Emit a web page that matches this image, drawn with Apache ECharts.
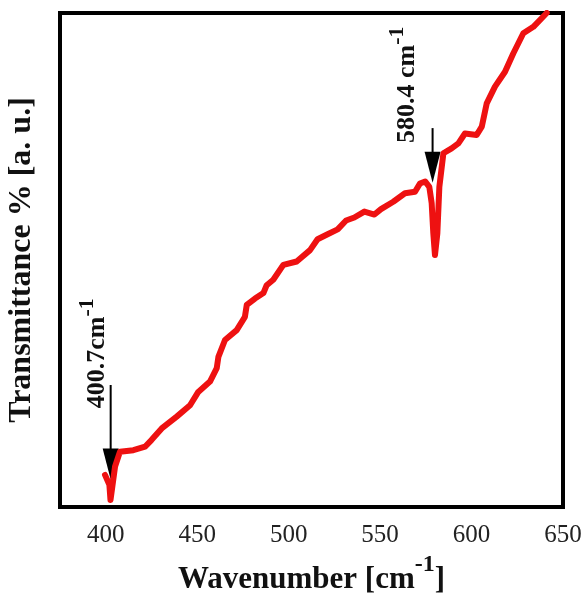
<!DOCTYPE html>
<html>
<head>
<meta charset="utf-8">
<script src="https://cdn.jsdelivr.net/npm/echarts@6/dist/echarts.min.js"></script>
<style>
  html, body { margin: 0; padding: 0; background: #fff; }
  #chart { width: 584px; height: 593px; }
</style>
</head>
<body>
<div id="chart"></div>
<script>
// FTIR spectrum, wavenumber [cm-1] vs transmittance (arbitrary units)
var wavenumber = [399.6, 402.0, 402.6, 403.4, 405.1, 407.8, 415.1, 421.5, 425.1, 430.6,
  438.8, 446.1, 450.6, 457.0, 460.7, 461.6, 465.2, 471.6, 476.1, 477.1,
  481.6, 486.2, 488.0, 491.6, 497.1, 504.4, 511.7, 515.8, 521.3, 526.8,
  531.4, 535.9, 541.4, 546.9, 550.5, 557.2, 563.6, 569.1, 571.8, 574.6,
  576.9, 578.2, 579.1, 580.0, 581.3, 582.4, 584.6, 589.1, 592.8, 596.4,
  602.8, 605.6, 608.3, 612.8, 618.3, 622.8, 628.3, 633.8, 641.1];
var transmittance = [6.5, 4.5, 1.4, 1.4, 8.2, 11.2, 11.5, 12.2, 13.6, 15.9,
  18.3, 20.6, 23.3, 25.4, 28.1, 30.4, 33.8, 35.8, 38.5, 40.9,
  42.2, 43.3, 44.9, 46.0, 49.0, 49.7, 52.0, 54.2, 55.2, 56.2,
  58.0, 58.6, 59.8, 59.2, 60.3, 61.8, 63.5, 63.8, 65.5, 65.9,
  64.8, 61.5, 55.4, 51.0, 55.4, 64.8, 71.6, 72.6, 73.6, 75.6,
  75.3, 77.0, 81.7, 85.1, 88.1, 91.8, 95.9, 97.2, 100];
var xTicks = [400, 450, 500, 550, 600, 650];

// peak annotations: label text, arrow x, arrow top, arrow head centre, label anchor
var peakText = ['400.7cm', '580.4 cm'];
var arrowX = [402.7, 578.7];
var arrowTop = [24.7, 76.7];
var arrowHead = [8.7, 68.8];
var labelAt = [[402.3, 20.0], [572.1, 73.7]];

var serif = 'Liberation Serif';
var points = wavenumber.map(function (w, i) { return [w, transmittance[i]]; });

var chart = echarts.init(document.getElementById('chart'));
var option = {
  animation: false,
  grid: {
    left: 60, right: 21, top: 13, bottom: 86,
    outerBoundsMode: 'none',
    show: true, borderColor: '#000', borderWidth: 4
  },
  xAxis: {
    type: 'value', min: 375, max: 650, interval: 25,
    axisLine: { show: false }, axisTick: { show: false }, splitLine: { show: false },
    axisLabel: {
      margin: 16, fontSize: 25, fontFamily: serif, color: '#222',
      formatter: function (v) { return xTicks.indexOf(v) >= 0 ? v : ''; }
    },
    name: '{b|Wavenumber [cm}{s|-1}{b|]}',
    nameLocation: 'middle', nameGap: 45,
    nameTextStyle: {
      rich: {
        b: { fontSize: 31, fontWeight: 'bold', fontFamily: serif, color: '#111', lineHeight: 43, verticalAlign: 'bottom' },
        s: { fontSize: 24, fontWeight: 'bold', fontFamily: serif, color: '#111', lineHeight: 24, verticalAlign: 'top' }
      }
    }
  },
  yAxis: {
    type: 'value', min: 0, max: 100,
    axisLine: { show: false }, axisTick: { show: false }, splitLine: { show: false },
    axisLabel: { show: false },
    name: 'Transmittance % [a. u.]',
    nameLocation: 'middle', nameRotate: 90, nameGap: 22,
    nameTextStyle: { fontSize: 32, fontWeight: 'bold', fontFamily: serif, color: '#111' }
  },
  series: [
    {
      type: 'line', data: points, showSymbol: false, silent: true,
      lineStyle: { color: '#ee1111', width: 6, join: 'round', cap: 'round' }
    },
    {
      type: 'line', showSymbol: false, silent: true,
      data: [[arrowX[0], arrowTop[0]], [arrowX[0], arrowHead[0]]],
      lineStyle: { color: '#000', width: 2 }
    },
    {
      type: 'line', showSymbol: false, silent: true,
      data: [[arrowX[1], arrowTop[1]], [arrowX[1], arrowHead[1]]],
      lineStyle: { color: '#000', width: 2 }
    },
    {
      type: 'scatter', silent: true,
      data: arrowX.map(function (x, i) { return [x, arrowHead[i]]; }),
      symbol: 'triangle', symbolSize: [16, 31], symbolRotate: 180,
      itemStyle: { color: '#000', opacity: 1 }
    }
  ]
};
chart.setOption(option);

var graphics = labelAt.map(function (p, i) {
  var px = chart.convertToPixel({ xAxisIndex: 0, yAxisIndex: 0 }, p);
  return {
    type: 'text', x: px[0], y: px[1], rotation: Math.PI / 2, silent: true,
    style: {
      text: '{n|' + peakText[i] + '}{s|-1}',
      align: 'left', verticalAlign: 'bottom',
      rich: {
        n: { fontSize: 26, fontWeight: 'bold', fontFamily: serif, fill: '#111', lineHeight: 34, verticalAlign: 'bottom' },
        s: { fontSize: 22, fontWeight: 'bold', fontFamily: serif, fill: '#111', lineHeight: 20, verticalAlign: 'top' }
      }
    }
  };
});
chart.setOption({ graphic: graphics });
</script>
</body>
</html>
